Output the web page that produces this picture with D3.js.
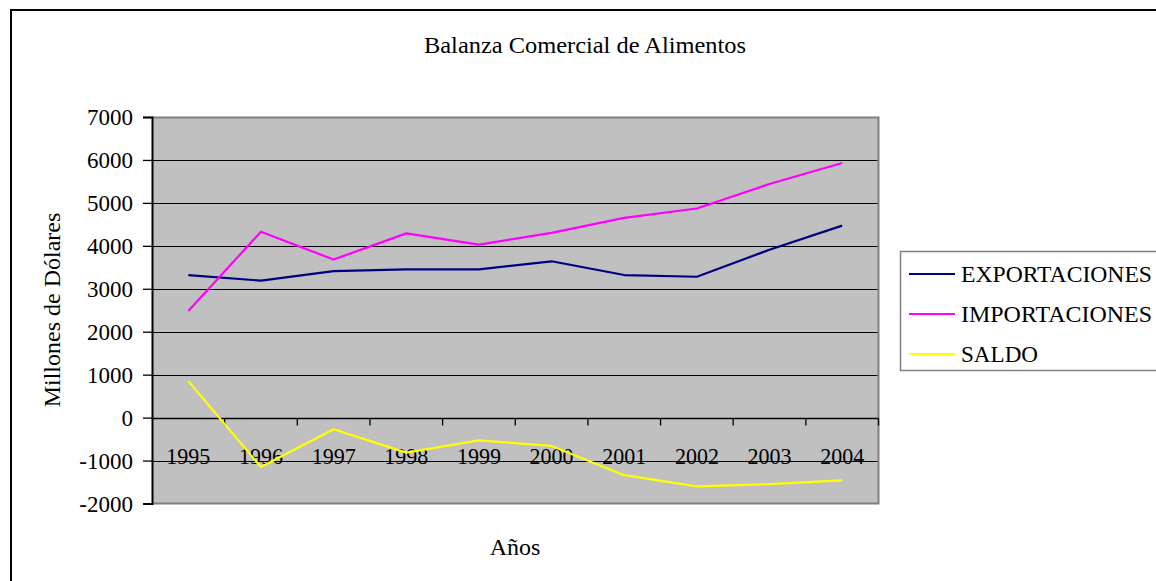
<!DOCTYPE html>
<html>
<head>
<meta charset="utf-8">
<script src="https://cdn.jsdelivr.net/npm/d3@7"></script>
<style>
  body { margin: 0; background: #fff; }
  svg { display: block; }
</style>
</head>
<body>
<svg id="chart" width="1156" height="581"></svg>
<script>
// data
const years = ['1995', '1996', '1997', '1998', '1999', '2000', '2001', '2002', '2003', '2004'];
const exportaciones = [3320, 3190, 3410, 3450, 3450, 3640, 3320, 3280, 3910, 4470];
const importaciones = [2480, 4330, 3680, 4290, 4030, 4300, 4650, 4870, 5440, 5930];
const saldo = [850, -1150, -270, -815, -530, -660, -1340, -1600, -1550, -1460];
const yTicks = [7000, 6000, 5000, 4000, 3000, 2000, 1000, 0, -1000, -2000];

const series = [
    { name: 'EXPORTACIONES', values: exportaciones, color: '#000080', labelWidth: 191 },
    { name: 'IMPORTACIONES', values: importaciones, color: '#FF00FF', labelWidth: 191 },
    { name: 'SALDO', values: saldo, color: '#FFFF00', labelWidth: 77 }
];

const serif = "'Liberation Serif'";
const svg = d3.select('#chart');

// plot area
const plotLeft = 152, plotRight = 878.5, plotTop = 117, plotBottom = 503.5;

const x = d3.scaleBand().domain(years).range([plotLeft, plotRight]).padding(0);
const y = d3.scaleLinear().domain([-2000, 7000]).range([plotBottom, plotTop]);

// outer chart border
svg.append('rect')
    .attr('x', 11).attr('y', 10)
    .attr('width', 1170).attr('height', 600)
    .attr('fill', '#fff')
    .attr('stroke', '#000')
    .attr('stroke-width', 2);

// title
svg.append('text')
    .attr('x', 585).attr('y', 53)
    .attr('text-anchor', 'middle')
    .style('font-family', serif)
    .attr('font-size', 24)
    .attr('textLength', 322)
    .attr('lengthAdjust', 'spacingAndGlyphs')
    .text('Balanza Comercial de Alimentos');

// plot background
svg.append('rect')
    .attr('x', plotLeft).attr('y', plotTop)
    .attr('width', plotRight - plotLeft).attr('height', plotBottom - plotTop)
    .attr('fill', '#C0C0C0');

// gridlines
svg.append('g')
    .selectAll('line')
    .data(yTicks.filter(v => v !== 7000 && v !== -2000))
    .join('line')
    .attr('x1', plotLeft).attr('x2', plotRight)
    .attr('y1', d => Math.round(y(d)) + 0.5)
    .attr('y2', d => Math.round(y(d)) + 0.5)
    .attr('stroke', '#000')
    .attr('stroke-width', 1.2);

// plot border (gray)
svg.append('path')
    .attr('d', `M${plotLeft},${plotTop + 0.5}H${plotRight}V${plotBottom}H${plotLeft}`)
    .attr('fill', 'none')
    .attr('stroke', '#808080')
    .attr('stroke-width', 2);

// y axis
const yAxis = svg.append('g')
    .attr('transform', `translate(${plotLeft},0)`)
    .call(d3.axisLeft(y).tickValues(yTicks).tickSize(9).tickPadding(10).tickFormat(d3.format('d')));
yAxis.select('.domain').attr('stroke', '#000').attr('stroke-width', 2);
yAxis.selectAll('.tick line').attr('stroke', '#000').attr('stroke-width', 1.3);
yAxis.selectAll('.tick text')
    .style('font-family', serif)
    .attr('font-size', 23)
    .attr('fill', '#000')
    .attr('dy', '0.34em')
    .text(d => d < 0 ? '-' + Math.abs(d) : d);

// x axis at zero: ticks between categories
const zeroY = Math.round(y(0)) + 0.5;
svg.append('line')
    .attr('x1', plotLeft).attr('x2', plotRight)
    .attr('y1', zeroY).attr('y2', zeroY)
    .attr('stroke', '#000').attr('stroke-width', 1.3);
svg.append('g')
    .selectAll('line')
    .data(years.slice(1).concat(['end']))
    .join('line')
    .attr('x1', d => d === 'end' ? plotRight : x(d))
    .attr('x2', d => d === 'end' ? plotRight : x(d))
    .attr('y1', zeroY).attr('y2', zeroY + 7)
    .attr('stroke', '#000').attr('stroke-width', 1.3);

// category labels (sit below the zero axis, inside the plot)
svg.append('g')
    .selectAll('text')
    .data(years)
    .join('text')
    .attr('x', d => x(d) + x.bandwidth() / 2)
    .attr('y', 464)
    .attr('text-anchor', 'middle')
    .style('font-family', serif)
    .attr('font-size', 23)
    .attr('textLength', 44)
    .attr('lengthAdjust', 'spacingAndGlyphs')
    .text(d => d);

// lines
const line = d3.line()
    .x((d, i) => x(years[i]) + x.bandwidth() / 2)
    .y(d => y(d));

svg.append('g')
    .selectAll('path')
    .data(series)
    .join('path')
    .attr('d', d => line(d.values))
    .attr('fill', 'none')
    .attr('stroke', d => d.color)
    .attr('stroke-width', 2.2)
    .attr('stroke-linejoin', 'round');

// axis titles
svg.append('text')
    .attr('transform', 'translate(60,310) rotate(-90)')
    .attr('text-anchor', 'middle')
    .style('font-family', serif)
    .attr('font-size', 24)
    .text('Millones de Dólares');

svg.append('text')
    .attr('x', 515).attr('y', 555)
    .attr('text-anchor', 'middle')
    .style('font-family', serif)
    .attr('font-size', 24)
    .text('Años');

// legend
const legend = svg.append('g');
legend.append('rect')
    .attr('x', 900.5).attr('y', 251.5)
    .attr('width', 300).attr('height', 119)
    .attr('fill', '#fff')
    .attr('stroke', '#808080')
    .attr('stroke-width', 1.5);

const items = legend.selectAll('g.item')
    .data(series)
    .join('g')
    .attr('class', 'item')
    .attr('transform', (d, i) => `translate(0,${274 + i * 40})`);
items.append('line')
    .attr('x1', 909).attr('x2', 955)
    .attr('y1', 0).attr('y2', 0)
    .attr('stroke', d => d.color)
    .attr('stroke-width', 2.2);
items.append('text')
    .attr('x', 961).attr('y', 8)
    .style('font-family', serif)
    .attr('font-size', 24)
    .attr('textLength', d => d.labelWidth)
    .attr('lengthAdjust', 'spacingAndGlyphs')
    .text(d => d.name);
</script>
</body>
</html>
